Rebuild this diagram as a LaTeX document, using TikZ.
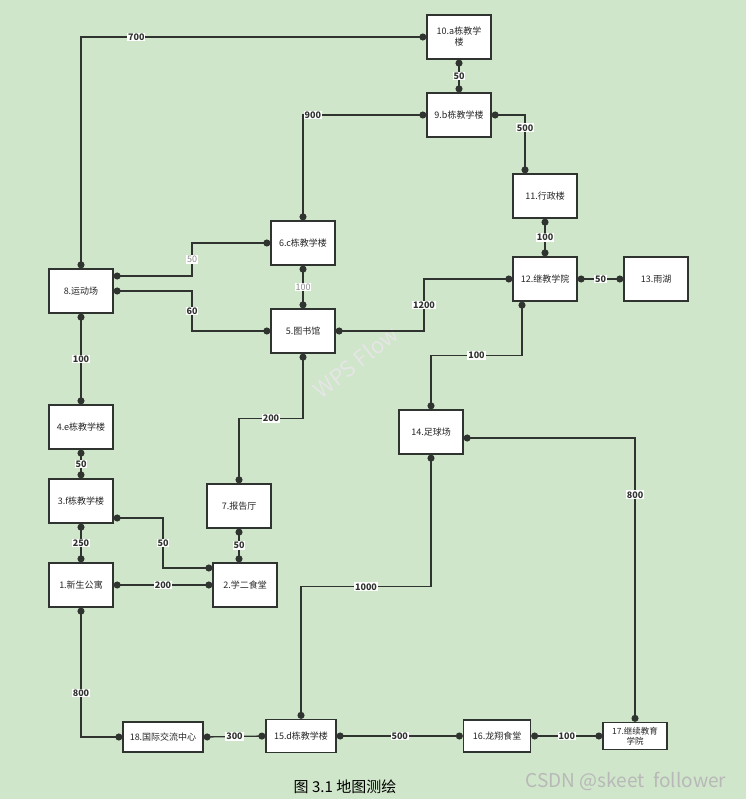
\documentclass[tikz,border=0pt]{standalone}
\usepackage{fontspec}
\setmainfont{Noto Sans CJK SC}
\usepackage{xcolor}
\usepackage{tikz}
\usetikzlibrary{arrows.meta,calc}
\definecolor{bgmap}{RGB}{207,230,202}
\definecolor{edge}{RGB}{48,52,48}
\tikzset{
  spot/.style    ={draw=edge, line width=1.3pt, rectangle, fill=white, align=center, minimum width=64pt, minimum height=44pt, inner sep=1pt, text=black!85, font=\fontsize{9}{11}\selectfont},
  lbl/.style     ={fill=white, inner sep=1pt, text=edge, font=\fontsize{9}{10}\selectfont\bfseries},
  lblgray/.style ={lbl, text=black!45, font=\fontsize{9}{10}\selectfont},
  link/.style    ={{Circle[length=7pt]}-{Circle[length=7pt]}, draw=edge, line width=1.3pt},
}

\begin{document}
\begin{tikzpicture}[x=1pt, y=-1pt]
  % page and background
  \fill[bgmap] (0,0) rectangle (746,799);
  \useasboundingbox (0,0) rectangle (746,799);
  \node[rotate=38, text=black!10, font=\fontsize{22}{22}\selectfont] (wps) at (356,362) {WPS Flow};

  % places, top to bottom
  \node[spot] (bldgA)   at (459,37)  {10.a栋教学\\楼};
  \node[spot] (bldgB)   at (459,115) {9.b栋教学楼};
  \node[spot] (admin)   at (545,196) {11.行政楼};
  \node[spot] (contedu) at (545,279) {12.继教学院};
  \node[spot] (lake)    at (656,279) {13.雨湖};
  \node[spot] (bldgC)   at (303,243) {6.c栋教学楼};
  \node[spot] (library) at (303,331) {5.图书馆};
  \node[spot] (sports)  at (81,291)  {8.运动场};
  \node[spot] (bldgE)   at (81,427)  {4.e栋教学楼};
  \node[spot] (bldgF)   at (81,501)  {3.f栋教学楼};
  \node[spot] (dorm)    at (81,585)  {1.新生公寓};
  \node[spot] (hall)    at (239,506) {7.报告厅};
  \node[spot] (canteen) at (245,585) {2.学二食堂};
  \node[spot] (soccer)  at (431,432) {14.足球场};

  % bottom row
  \node[spot, minimum width=80pt, minimum height=30pt] (intl)   at (163,737) {18.国际交流中心};
  \node[spot, minimum width=70pt, minimum height=33pt] (bldgD)  at (301,736) {15.d栋教学楼};
  \node[spot, minimum width=67pt, minimum height=32pt] (longx)  at (497,736) {16.龙翔食堂};
  \node[spot, minimum height=27pt, font=\fontsize{8.5}{9.5}\selectfont] (conted) at (635,736) {17.继续教育\\学院};

  % straight links
  \draw[link] (bldgA.south)   -- node[lbl]{50}      (bldgB.north);
  \draw[link] (admin.south)   -- node[lbl]{100}     (contedu.north);
  \draw[link] (contedu.east)  -- node[lbl]{50}      (lake.west);
  \draw[link] (bldgC.south)   -- node[lblgray]{100} (library.north);
  \draw[link] (sports.south)  -- node[lbl]{100}     (bldgE.north);
  \draw[link] (bldgE.south)   -- node[lbl]{50}      (bldgF.north);
  \draw[link] (bldgF.south)   -- node[lbl]{250}     (dorm.north);
  \draw[link] (dorm.east)     -- node[lbl]{200}     (canteen.west);
  \draw[link] (hall.south)    -- node[lbl]{50}      (hall.south |- canteen.north);
  \draw[link] (intl.east)     -- node[lbl]{300}     (bldgD.west);
  \draw[link] (bldgD.east)    -- node[lbl]{500}     (longx.west);
  \draw[link] (longx.east)    -- node[lbl]{100}     (conted.west);

  % elbow links
  \draw[link] (sports.north) |- node[lbl, pos=0.58]{700} (bldgA.west);
  \draw[link] (bldgB.west) -| node[lbl, pos=0.46]{900} (bldgC.north);
  \draw[link] (bldgB.east) -| node[lbl, pos=0.61]{500} ([xshift=-20pt]admin.north);
  \draw[link] ([yshift=-6pt]soccer.east) -| node[lbl, pos=0.6]{800} (conted.north);
  \draw[link] (dorm.south) |- node[lbl, pos=0.33]{800} (intl.west);

  % links with two bends, label on the middle run
  \draw[link] (library.east) -| node[lbl, pos=1]{1200}
       ($(library.east)!.5!(contedu.west)$) |- (contedu.west);
  \draw[link] ([xshift=-23pt]contedu.south) |- node[lbl, pos=1]{100}
       ($([xshift=-23pt]contedu.south)!.5!(soccer.north)$) -| (soccer.north);
  \draw[link] ([yshift=15pt]sports.east) -| node[lblgray, pos=1]{50}
       ($([yshift=15pt]sports.east)!.5!(bldgC.west)$) |- (bldgC.west);
  \draw[link] (sports.east) -| node[lbl, pos=1]{60}
       ($(sports.east)!.5!(library.west)$) |- (library.west);
  \draw[link] (library.south) |- node[lbl, pos=1]{200}
       ($(library.south)!.5!(hall.north)$) -| (hall.north);
  \draw[link] ([yshift=-17pt]bldgF.east) -| node[lbl, pos=1]{50}
       ($([yshift=-17pt]bldgF.east)!.5!([yshift=17pt]canteen.west)$) |- ([yshift=17pt]canteen.west);
  \draw[link] (soccer.south) |- node[lbl, pos=1]{1000}
       ($(soccer.south)!.5!(bldgD.north)$) -| (bldgD.north);

  % caption and mark
  \node[font=\fontsize{15}{15}\selectfont] (caption) at (345,787) {图 3.1 地图测绘};
  \node[text=black!28, font=\fontsize{19}{19}\selectfont] (csdn) at (626,781) {CSDN @skeet\ \ follower};
\end{tikzpicture}
\end{document}
